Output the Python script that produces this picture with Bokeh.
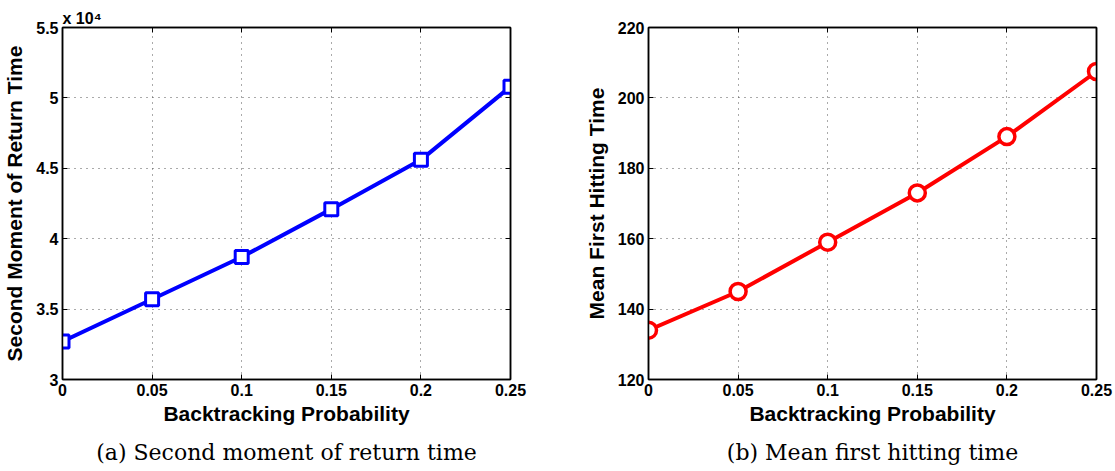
from bokeh.plotting import figure
from bokeh.layouts import row
from bokeh.models import FixedTicker, LinearAxis, Title, Range1d
from bokeh.embed import file_html
from bokeh.resources import INLINE

# ---- data ----
prob = [0, 0.05, 0.1, 0.15, 0.2, 0.25]
second_moment_e4 = [3.27, 3.57, 3.87, 4.21, 4.56, 5.08]   # x 10^4
mean_hitting = [134, 145, 159, 173, 189, 207.5]

x_ticks = [0, 0.05, 0.1, 0.15, 0.2, 0.25]
x_tick_labels = ["0", "0.05", "0.1", "0.15", "0.2", "0.25"]
left_y_ticks = [3, 3.5, 4, 4.5, 5, 5.5]
left_y_labels = ["3", "3.5", "4", "4.5", "5", "5.5"]
right_y_ticks = [120, 140, 160, 180, 200, 220]
right_y_labels = ["120", "140", "160", "180", "200", "220"]

SANS = "Liberation Sans"
SERIF = "DejaVu Serif"


def style_axis(ax, ticks, labels):
    ax.ticker = FixedTicker(ticks=ticks)
    ax.major_label_overrides = {t: l for t, l in zip(ticks, labels)}
    ax.major_tick_in = 5
    ax.major_tick_out = 0
    ax.minor_tick_line_color = None
    ax.axis_line_color = "black"
    ax.axis_line_width = 1.5
    ax.major_tick_line_color = "black"
    ax.major_label_text_font = SANS
    ax.major_label_text_font_style = "bold"
    ax.major_label_text_font_size = "16px"
    ax.major_label_text_color = "black"
    ax.axis_label_text_font = SANS
    ax.axis_label_text_font_style = "bold"
    ax.axis_label_text_font_size = "21px"
    ax.axis_label_text_color = "black"


def blank_axis(ticks):
    ax = LinearAxis(ticker=FixedTicker(ticks=ticks))
    ax.major_label_overrides = {t: "" for t in ticks}
    ax.major_label_standoff = 0
    ax.major_tick_in = 5
    ax.major_tick_out = 0
    ax.minor_tick_line_color = None
    ax.axis_line_color = "black"
    ax.axis_line_width = 1.5
    ax.major_tick_line_color = "black"
    ax.major_label_text_font_size = "1px"
    return ax


def make_panel(y, yticks, ylabels, yrange, ylabel, caption, color, marker,
               border_left, border_right):
    p = figure(frame_width=448, frame_height=352,
               min_border_left=border_left, min_border_right=border_right,
               min_border_top=27, min_border_bottom=92,
               x_range=Range1d(0, 0.25), y_range=Range1d(*yrange),
               output_backend="svg", toolbar_location=None,
               background_fill_color="white", border_fill_color="white")
    p.outline_line_color = "black"
    p.outline_line_width = 1.5
    style_axis(p.xaxis[0], x_ticks, x_tick_labels)
    style_axis(p.yaxis[0], yticks, ylabels)
    p.xaxis[0].axis_label = "Backtracking Probability"
    p.xaxis[0].axis_label_standoff = 3
    p.xaxis[0].major_label_standoff = 4
    p.yaxis[0].axis_label = ylabel
    p.yaxis[0].axis_label_standoff = 7
    p.yaxis[0].major_label_standoff = 4

    p.add_layout(blank_axis(x_ticks), "above")
    p.add_layout(blank_axis(yticks), "right")

    p.xgrid.ticker = FixedTicker(ticks=x_ticks)
    p.ygrid.ticker = FixedTicker(ticks=yticks)
    for g in (p.xgrid[0], p.ygrid[0]):
        g.grid_line_color = "#555555"
        g.grid_line_dash = "1 5"
        g.grid_line_width = 1

    p.line(prob, y, line_color=color, line_width=4)
    if marker == "square":
        p.scatter(prob, y, marker="square", size=13, line_color=color,
                  line_width=3, fill_color="white")
    else:
        p.scatter(prob, y, marker="circle", size=16, line_color=color,
                  line_width=3.5, fill_color="white")

    cap = Title(text=caption, align="center", text_font=SERIF,
                text_font_style="normal", text_font_size="22px",
                text_color="black", standoff=20)
    p.add_layout(cap, "below")
    return p


p1 = make_panel(second_moment_e4, left_y_ticks, left_y_labels, (3, 5.5),
                "Second Moment of Return Time",
                "(a) Second moment of return time", "#0000FF", "square",
                62, 20)
p1.add_layout(Title(text="x 10\u2074", align="left", text_font=SANS,
                    text_font_style="bold", text_font_size="16px",
                    text_color="black", standoff=1), "above")

p2 = make_panel(mean_hitting, right_y_ticks, right_y_labels, (120, 220),
                "Mean First Hitting Time",
                "(b) Mean first hitting time", "#FF0000", "circle",
                118, 19)

layout = row(p1, p2, spacing=0)
open("out.html", "w").write(file_html(layout, INLINE))
